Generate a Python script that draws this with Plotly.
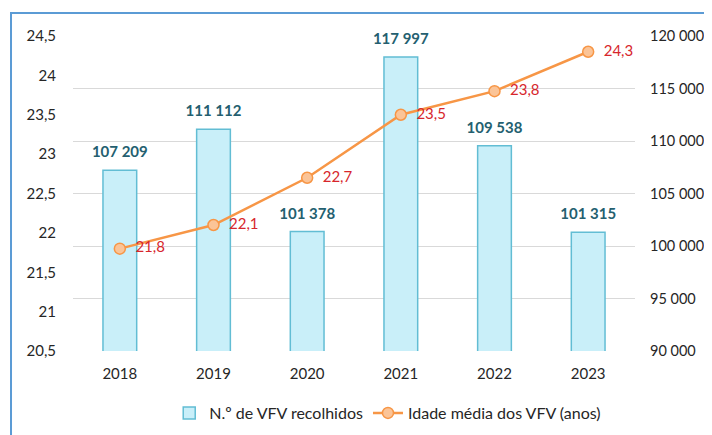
import plotly.graph_objects as go

years = ["2018", "2019", "2020", "2021", "2022", "2023"]
vfv_recolhidos = [107209, 111112, 101378, 117997, 109538, 101315]
idade_media = [21.8, 22.1, 22.7, 23.5, 23.8, 24.3]

left_ticks = [20.5, 21, 21.5, 22, 22.5, 23, 23.5, 24, 24.5]
right_ticks = [90000, 95000, 100000, 105000, 110000, 115000, 120000]

FONT = "Lato"

fig = go.Figure()

fig.add_trace(go.Bar(
    x=years, y=vfv_recolhidos, name="N.º de VFV recolhidos",
    yaxis="y",
    marker=dict(color="#c9eff9", line=dict(color="#62bdd4", width=1.5)),
    hoverinfo="x+y",
))

# value labels above the bars
fig.add_trace(go.Scatter(
    x=years, y=vfv_recolhidos, yaxis="y", mode="markers+text",
    marker=dict(size=13, color="rgba(0,0,0,0)"),
    texttemplate="%{y:,}", textposition="top center", cliponaxis=False,
    textfont=dict(family=FONT, size=15, color="#245f70", weight="bold"),
    showlegend=False, hoverinfo="skip",
))

fig.add_trace(go.Scatter(
    x=years, y=idade_media, name="Idade média dos VFV (anos)",
    yaxis="y2", mode="lines+markers+text",
    line=dict(color="#f79646", width=2.5),
    marker=dict(size=11, color="#fbc497", line=dict(color="#f79646", width=1.5)),
    texttemplate="\u00a0\u00a0%{y:.1f}", textposition="middle right", cliponaxis=False,
    textfont=dict(family=FONT, size=15, color="#d7262c"),
))

fig.update_layout(
    template="none",
    width=704, height=427,
    margin=dict(l=65, r=77, t=28, b=84, autoexpand=False),
    paper_bgcolor="white", plot_bgcolor="white",
    separators=", ",
    font=dict(family=FONT, size=15, color="#262626"),
    bargap=0.64,
    showlegend=True,
    legend=dict(orientation="h", x=0.56, xanchor="center", y=-0.197, yanchor="middle",
                font=dict(family=FONT, size=16, color="#262626"),
                traceorder="normal", bgcolor="rgba(0,0,0,0)"),
    xaxis=dict(showgrid=False, showline=False, ticks="", zeroline=False,
               tickfont=dict(size=15), automargin=False, ticklabelstandoff=12),
    yaxis=dict(side="right", range=[90000, 120000], tickvals=right_ticks,
               tickformat=",", showgrid=True, gridcolor="#d9d9d9", gridwidth=1,
               zeroline=False, showline=False, ticks="", ticklabelstandoff=14,
               tickfont=dict(size=14.5), automargin=False),
    yaxis2=dict(side="left", overlaying="y", range=[20.5, 24.5], tickvals=left_ticks,
                showgrid=False, zeroline=False, showline=False, ticks="",
                ticklabelstandoff=16, automargin=False),
    shapes=[dict(type="rect", xref="paper", yref="paper",
                 x0=-0.1103, x1=1.3, y0=-0.6, y1=1.073,
                 line=dict(color="#5b9bd5", width=2), fillcolor="rgba(0,0,0,0)",
                 layer="below")],
)

fig.write_html("out.html")
